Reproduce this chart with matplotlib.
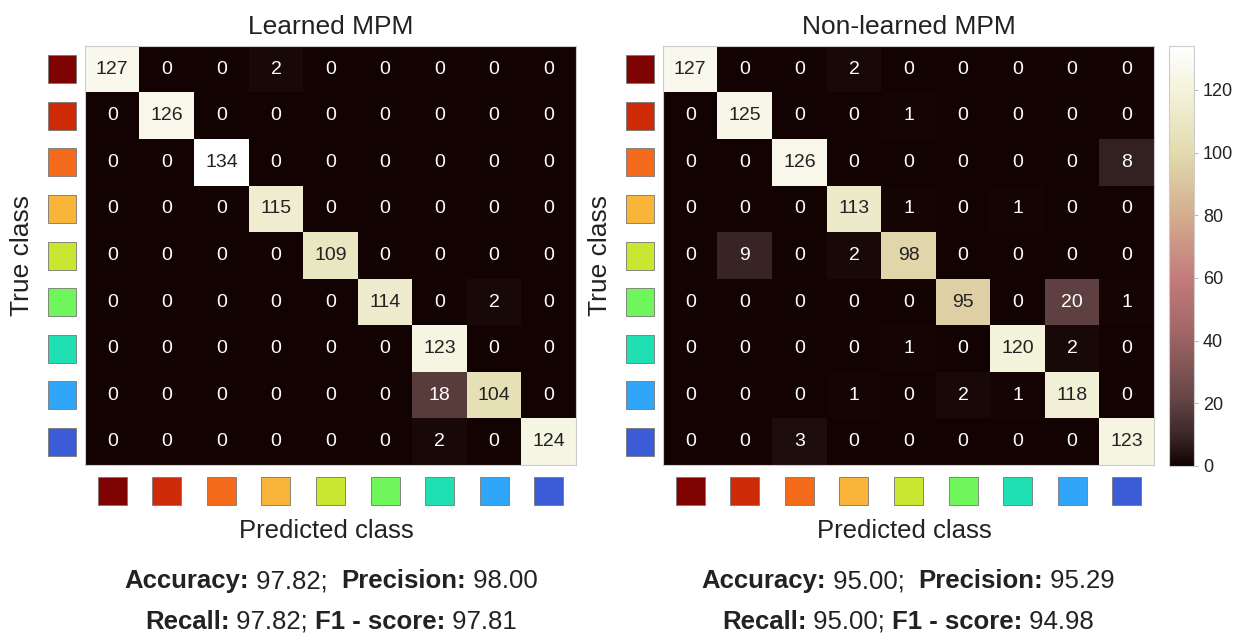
import numpy as np
import matplotlib
matplotlib.use("Agg")
import matplotlib.pyplot as plt
from matplotlib.colors import LinearSegmentedColormap
from matplotlib.patches import Rectangle
from matplotlib.offsetbox import TextArea, HPacker, AnnotationBbox

plt.rcParams['font.family'] = ['Liberation Sans', 'DejaVu Sans']

# confusion matrices (rows = true class, cols = predicted class)
learned = np.array([
    [127, 0, 0, 2, 0, 0, 0, 0, 0],
    [0, 126, 0, 0, 0, 0, 0, 0, 0],
    [0, 0, 134, 0, 0, 0, 0, 0, 0],
    [0, 0, 0, 115, 0, 0, 0, 0, 0],
    [0, 0, 0, 0, 109, 0, 0, 0, 0],
    [0, 0, 0, 0, 0, 114, 0, 2, 0],
    [0, 0, 0, 0, 0, 0, 123, 0, 0],
    [0, 0, 0, 0, 0, 0, 18, 104, 0],
    [0, 0, 0, 0, 0, 0, 2, 0, 124],
])
non_learned = np.array([
    [127, 0, 0, 2, 0, 0, 0, 0, 0],
    [0, 125, 0, 0, 1, 0, 0, 0, 0],
    [0, 0, 126, 0, 0, 0, 0, 0, 8],
    [0, 0, 0, 113, 1, 0, 1, 0, 0],
    [0, 9, 0, 2, 98, 0, 0, 0, 0],
    [0, 0, 0, 0, 0, 95, 0, 20, 1],
    [0, 0, 0, 0, 1, 0, 120, 2, 0],
    [0, 0, 0, 1, 0, 2, 1, 118, 0],
    [0, 0, 3, 0, 0, 0, 0, 0, 123],
])
titles = ["Learned MPM", "Non-learned MPM"]
metrics = [("97.82", "98.00", "97.82", "97.81"),
           ("95.00", "95.29", "95.00", "94.98")]
class_colors = ["#7f0303", "#cc2b05", "#f36a1b", "#f9b43a", "#c9e631",
                "#6ef65a", "#1ee0b2", "#31a6f8", "#3c5bd6"]
cbar_ticks = [0, 20, 40, 60, 80, 100, 120]

cmap = LinearSegmentedColormap.from_list("cm", [
    (0.0, "#120202"), (0.07, "#3a2626"), (0.17, "#6a4848"),
    (0.33, "#a46868"), (0.45, "#c47c7c"), (0.6, "#d4ae8e"),
    (0.75, "#e2dcae"), (0.9, "#f4f3dc"), (1.0, "#ffffff")])
vmax = 134

W, H = 1236, 634
fig = plt.figure(figsize=(W / 100, H / 100), dpi=100)


def px(x0, y0, x1, y1):
    return [x0 / W, 1 - y1 / H, (x1 - x0) / W, (y1 - y0) / H]


def mixed_line(x, y, parts):
    # parts: list of (text, bold) pieces placed side by side, centred at x, y
    areas = [TextArea(t, textprops=dict(fontsize=18.5, color='#222222',
                                        fontweight='bold' if b else 'normal'))
             for t, b in parts]
    box = HPacker(children=areas, align='baseline', pad=0, sep=0)
    ab = AnnotationBbox(box, (x / W, 1 - y / H), xycoords='figure fraction',
                        box_alignment=(0.5, 0.5), frameon=False, pad=0)
    fig.add_artist(ab)


lefts = [85, 663]
cw, ch = 491 / 9, 419 / 9
for k, (mat, title, left) in enumerate(zip([learned, non_learned], titles, lefts)):
    ax = fig.add_axes(px(left, 46, left + 491, 465))
    im = ax.imshow(mat, cmap=cmap, vmin=0, vmax=vmax, aspect='auto')
    for r in range(9):
        for c in range(9):
            v = mat[r, c]
            ax.text(c, r, str(v), ha='center', va='center', fontsize=14,
                    color='#222222' if v > 80 else 'white')
    ax.set_xticks([])
    ax.set_yticks([])
    for s in ax.spines.values():
        s.set_color('#cccccc')
        s.set_linewidth(0.8)
    ax.set_title(title, fontsize=19, color='#222222', pad=9)
    # class colour squares
    sw, sh = 28 / cw, 28 / ch
    for i, col in enumerate(class_colors):
        ax.add_patch(Rectangle((-0.5 - 37 / cw, i - sh / 2), sw, sh,
                               facecolor=col, edgecolor='#777777', lw=0.6,
                               clip_on=False))
        ax.add_patch(Rectangle((i - 0.5 * 29 / cw, 8.5 + 12 / ch), 29 / cw, sh,
                               facecolor=col, edgecolor='#777777', lw=0.6,
                               clip_on=False))
    cx = (left + 491 / 2) / W
    fig.text((left - 63) / W, 1 - 256 / H, "True class", rotation=90,
             ha='center', va='center', fontsize=19, color='#222222')
    fig.text(cx - 0.003, 1 - 531 / H, "Predicted class", ha='center',
             va='center', fontsize=18.5, color='#222222')
    acc, prec, rec, f1 = metrics[k]
    mx = [331, 908][k]
    mixed_line(mx, 581, [("Accuracy:", True), (" " + acc + ";  ", False),
                         ("Precision:", True), (" " + prec, False)])
    mixed_line(mx, 622, [("Recall:", True), (" " + rec + "; ", False),
                         ("F1 - score:", True), (" " + f1, False)])

cax = fig.add_axes(px(1169, 46, 1194, 466))
cb = fig.colorbar(im, cax=cax, ticks=cbar_ticks)
cb.outline.set_edgecolor('#cccccc')
cb.outline.set_linewidth(0.8)
cax.tick_params(labelsize=13, length=3, width=0.6, color='#aaaaaa',
                labelcolor='#222222')

fig.savefig("out.png", dpi=100)
